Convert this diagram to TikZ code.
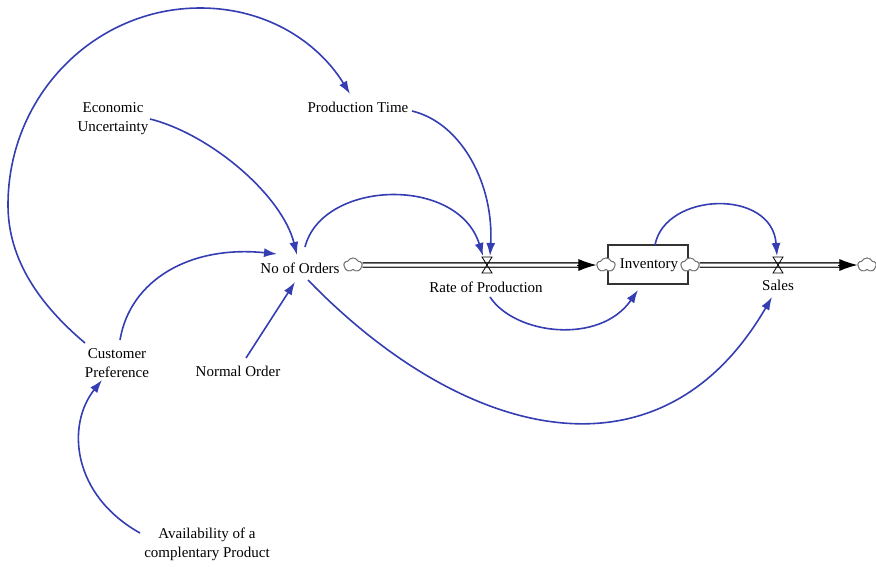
\documentclass[tikz,border=0pt]{standalone}
\usepackage{fontspec}
\setmainfont{Liberation Serif}
\usetikzlibrary{arrows.meta,shapes.symbols,calc}
\definecolor{linkblue}{RGB}{52,62,178}
\begin{document}
\begin{tikzpicture}[x=1pt,y=-1pt,
  lbl/.style={font=\fontsize{15}{19}\selectfont, inner sep=0pt, align=center},
  link/.style={draw=linkblue, line width=1.6pt, -{Latex[length=13pt,width=9pt]}},
  pipe/.style={draw=black!80, line width=1.3pt, double=white, double distance=3pt},
  pipetip/.style={-{Latex[length=18pt,width=12pt]}, line width=1pt},
  srccloud/.style={cloud, cloud puffs=5, cloud puff arc=130, aspect=1.25, draw=black!55, fill=white, line width=0.9pt, minimum width=18pt, minimum height=14pt, inner sep=0pt},
  stockbox/.style={draw=black!80, line width=1.1pt, fill=white, minimum width=80pt, minimum height=39pt, inner sep=0pt},
  valvebow/.style={draw=black, line width=0.8pt}]
\useasboundingbox (0,0) rectangle (876,566);

% stock and clouds
\node[stockbox] (inv) at (648,264.5) {};
\node[srccloud] (c1) at (353,265) {};
\node[srccloud] (c2) at (606,265) {};
\node[srccloud] (c3) at (690,265) {};
\node[srccloud] (c4) at (867,265) {};

% pipes
\draw[pipe] (c1.east) -- ($(c2.west)+(-14,0)$);
\draw[pipetip] ($(c2.west)+(-19,0)$) coordinate (t1) -- (c2.west);
\draw[pipe] (c3.east) -- ($(c4.west)+(-14,0)$);
\draw[pipetip] ($(c4.west)+(-19,0)$) coordinate (t2) -- (c4.west);
\node[srccloud] at (c1) {};
\node[srccloud] at (c2) {};
\node[srccloud] at (c3) {};
\node[srccloud] at (c4) {};

% valves
\coordinate (rv) at (487,265);
\coordinate (sv) at (778,265);
\draw[valvebow] ($(rv)+(-5,-8)$) -- ($(rv)+(5,-8)$) -- ($(rv)+(-5,8)$) -- ($(rv)+(5,8)$) -- cycle;
\draw[valvebow] ($(sv)+(-5,-8)$) -- ($(sv)+(5,-8)$) -- ($(sv)+(-5,8)$) -- ($(sv)+(5,8)$) -- cycle;

% labels
\node[lbl] (orders) at (300,268) {No of Orders};
\node[lbl] (rate) at (486,287) {Rate of Production};
\node[lbl] (invtxt) at (649,265) {Inventory};
\node[lbl] (sales) at (778,285) {Sales};
\node[lbl] (econ) at (113,119) {Economic\\Uncertainty};
\node[lbl] (ptime) at (358,107) {Production Time};
\node[lbl] (cust) at (117,363) {Customer\\Preference};
\node[lbl] (normal) at (238,371) {Normal Order};
\node[lbl] (avail) at (207,544) {Availability of a\\complentary Product};

% link ports
\coordinate (custA) at (85,343);
\coordinate (custB) at (120,340);
\coordinate (custIn) at (102,380);
\coordinate (ptimeIn) at (350,94);
\coordinate (ptimeOut) at (412,111);
\coordinate (econOut) at (150,119);
\coordinate (ordInTop) at (297,255);
\coordinate (ordInLeft) at (277,254);
\coordinate (ordInBot) at (295,282);
\coordinate (ordOutTop) at (305,247);
\coordinate (ordOutBot) at (308,280);
\coordinate (normalOut) at (246,358);
\coordinate (rateIn1) at (483,256);
\coordinate (rateIn2) at (490,256);
\coordinate (rateOut) at (490,297);
\coordinate (invIn) at (638,290);
\coordinate (invOut) at (655,245);
\coordinate (salesInTop) at (777,256);
\coordinate (salesInBot) at (772,297);
\coordinate (availOut) at (140,533);

% links
\draw[link] (custA) .. controls (40,305) and (8,260) .. (8,205)
  .. controls (8,95) and (95,8) .. (200,8)
  .. controls (270,8) and (320,45) .. (ptimeIn);
\draw[link] (econOut) .. controls (210,134) and (282,195) .. (ordInTop);
\draw[link] (ptimeOut) .. controls (462,123) and (494,185) .. (rateIn2);
\draw[link] (ordOutTop) .. controls (322,180) and (458,175) .. (rateIn1);
\draw[link] (custB) .. controls (130,280) and (190,245) .. (ordInLeft);
\draw[link] (normalOut) -- (ordInBot);
\draw[link] (ordOutBot) .. controls (463,440) and (660,490) .. (salesInBot);
\draw[link] (rateOut) .. controls (515,335) and (600,345) .. (invIn);
\draw[link] (invOut) .. controls (665,192) and (772,188) .. (salesInTop);
\draw[link] (availOut) .. controls (72,495) and (66,425) .. (custIn);
\end{tikzpicture}
\end{document}
